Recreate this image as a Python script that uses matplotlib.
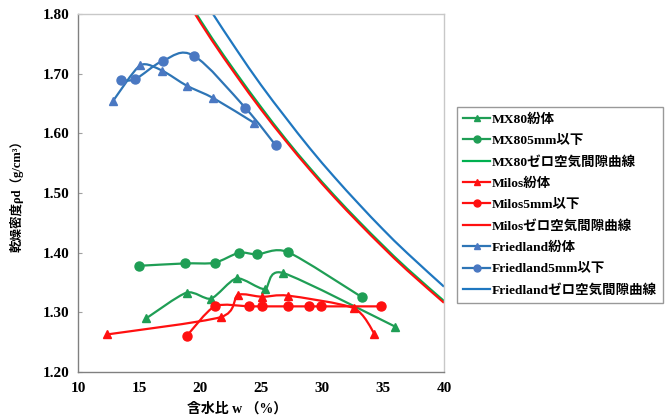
import matplotlib
matplotlib.use("Agg")
import matplotlib.pyplot as plt
import numpy as np
from matplotlib.path import Path
from matplotlib.patches import PathPatch
from matplotlib.lines import Line2D

# ---------------- data ----------------
mx80_powder_w = [15.6, 18.9, 20.9, 23.0, 25.3, 26.8, 36.0]
mx80_powder_rho = [1.290, 1.333, 1.323, 1.357, 1.339, 1.366, 1.276]

mx80_5mm_w = [15.0, 18.8, 21.2, 23.2, 24.7, 27.2, 33.3]
mx80_5mm_rho = [1.378, 1.382, 1.383, 1.400, 1.397, 1.401, 1.325]

mx80_zav_w = [19.5, 21, 23, 25, 27, 29, 31, 33, 35, 37, 40]
mx80_zav_rho = [1.807, 1.759, 1.700, 1.644, 1.591, 1.542, 1.496, 1.453, 1.412, 1.373, 1.319]

milos_powder_w = [12.4, 21.7, 23.1, 25.1, 27.2, 32.6, 34.3]
milos_powder_rho = [1.263, 1.292, 1.329, 1.326, 1.328, 1.307, 1.264]

milos_5mm_w = [18.9, 21.2, 24.0, 25.1, 27.2, 28.9, 29.9, 34.8]
milos_5mm_rho = [1.260, 1.310, 1.310, 1.310, 1.310, 1.310, 1.310, 1.310]

milos_zav_w = [19.5, 21, 23, 25, 27, 29, 31, 33, 35, 37, 40]
milos_zav_rho = [1.803, 1.755, 1.696, 1.640, 1.588, 1.539, 1.493, 1.450, 1.409, 1.370, 1.316]

fried_powder_w = [12.9, 15.1, 16.9, 18.9, 21.1, 24.4]
fried_powder_rho = [1.655, 1.714, 1.705, 1.680, 1.659, 1.618]

fried_5mm_w = [13.5, 14.7, 17.0, 19.5, 23.7, 26.2]
fried_5mm_rho = [1.690, 1.691, 1.722, 1.730, 1.643, 1.580]

fried_zav_w = [20.5, 21, 23, 25, 27, 29, 31, 33, 35, 37, 40]
fried_zav_rho = [1.819, 1.802, 1.740, 1.681, 1.627, 1.575, 1.527, 1.482, 1.439, 1.399, 1.343]

labels = ["MX80紛体", "MX805mm以下", "MX80ゼロ空気間隙曲線",
          "Milos紛体", "Milos5mm以下", "Milosゼロ空気間隙曲線",
          "Friedland紛体", "Friedland5mm以下", "Friedlandゼロ空気間隙曲線"]
xticks = [10, 15, 20, 25, 30, 35, 40]
yticks = [1.20, 1.30, 1.40, 1.50, 1.60, 1.70, 1.80]

GREEN = "#1F9E55"
GREEN_L = "#00B050"
RED = "#FF1010"
BLUE = "#2E75B6"
BLUE2 = "#4A78C2"
BLUE_L = "#1F77C0"

FONT = ["Liberation Serif", "Noto Sans CJK JP", "DejaVu Sans"]
plt.rcParams['font.family'] = FONT
plt.rcParams['font.weight'] = 'bold'


def smooth_path(xs, ys, k=8.0):
    pts = np.column_stack([xs, ys]).astype(float)
    n = len(pts)
    verts = [pts[0]]
    codes = [Path.MOVETO]
    for i in range(n - 1):
        p0 = pts[i - 1] if i > 0 else pts[i]
        p1 = pts[i]
        p2 = pts[i + 1]
        p3 = pts[i + 2] if i + 2 < n else pts[i + 1]
        c1 = p1 + (p2 - p0) / k
        c2 = p2 - (p3 - p1) / k
        verts += [c1, c2, p2]
        codes += [Path.CURVE4] * 3
    return Path(verts, codes)


fig = plt.figure(figsize=(6.69, 4.16), dpi=100)
ax = fig.add_axes([78 / 669, 1 - 372 / 416, (444 - 78) / 669, (372 - 14) / 416])

series = [
    (mx80_powder_w, mx80_powder_rho, GREEN, '^', GREEN),
    (mx80_5mm_w, mx80_5mm_rho, GREEN, 'o', GREEN),
    (mx80_zav_w, mx80_zav_rho, GREEN_L, None, None),
    (milos_powder_w, milos_powder_rho, RED, '^', RED),
    (milos_5mm_w, milos_5mm_rho, RED, 'o', RED),
    (milos_zav_w, milos_zav_rho, RED, None, None),
    (fried_powder_w, fried_powder_rho, BLUE, '^', BLUE2),
    (fried_5mm_w, fried_5mm_rho, BLUE, 'o', BLUE2),
    (fried_zav_w, fried_zav_rho, BLUE_L, None, None),
]

handles = []
for (xs, ys, c, m, mc), lab in zip(series, labels):
    k = 6.0 if (m is None or xs is fried_5mm_w) else 8.0
    patch = PathPatch(smooth_path(xs, ys, k), facecolor='none', edgecolor=c,
                      lw=1.6, zorder=2)
    ax.add_patch(patch)
    if m is not None:
        ax.plot(xs, ys, ls='none', marker=m, ms=6 if m == '^' else 6.5,
                color=mc, zorder=3)
    handles.append(Line2D([], [], color=c, lw=1.6, marker=m if m else None,
                          ms=5, markerfacecolor=mc, markeredgecolor=mc))

ax.set_xlim(10, 40)
ax.set_ylim(1.20, 1.80)
ax.set_xticks(xticks)
ax.set_yticks(yticks)
ax.set_xticklabels([str(t) for t in xticks], fontsize=11, fontweight='bold')
ax.set_yticklabels(["%.2f" % t for t in yticks], fontsize=11, fontweight='bold')
ax.tick_params(axis='both', direction='in', length=3, color='#A0A0A0', pad=6)
ax.tick_params(axis='x', length=0, pad=7)
for s in ['left', 'bottom']:
    ax.spines[s].set_color('#808080')
    ax.spines[s].set_linewidth(1.0)
for s in ['top', 'right']:
    ax.spines[s].set_color('#C8C8C8')
    ax.spines[s].set_linewidth(1.0)

ax.set_xlabel("含水比 w （%）", fontsize=10, fontweight='bold')
ax.xaxis.set_label_coords((237 - 78) / 366, -0.085)
ax.set_ylabel("乾燥密度ρd（g/cm³）", fontsize=9, fontweight='bold', labelpad=14)

leg = fig.legend(handles, labels, loc='upper left',
                 bbox_to_anchor=(457 / 669, 1 - 107 / 416),
                 bbox_transform=fig.transFigure, frameon=True, fancybox=False,
                 edgecolor='#808080', prop={'weight': 'bold', 'size': 9.7},
                 handlelength=2.0, handletextpad=0.15, labelspacing=0.66,
                 borderpad=0.45, borderaxespad=0)
leg.get_frame().set_linewidth(1.0)

fig.savefig("out.png", dpi=100)
